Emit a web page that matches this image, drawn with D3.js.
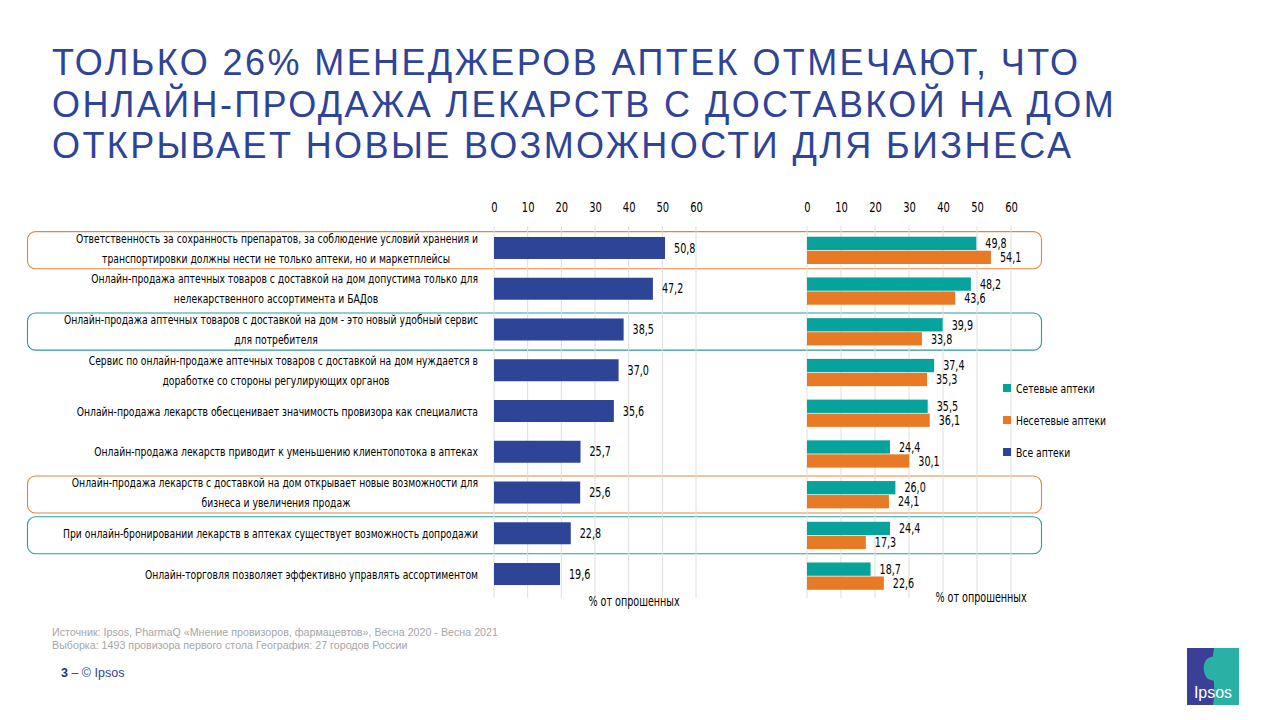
<!DOCTYPE html>
<html>
<head>
<meta charset="utf-8">
<script src="https://cdn.jsdelivr.net/npm/d3@7"></script>
<style>
  body { margin: 0; background: #fff; }
  svg { display: block; }
  .narrow { font-family: "Liberation Sans Narrow", "DejaVu Sans Condensed", sans-serif; }
  .wide { font-family: "Liberation Sans", Arial, sans-serif; }
</style>
</head>
<body>
<div id="chart-area"></div>
<script>
const titleLines = [
  "ТОЛЬКО 26% МЕНЕДЖЕРОВ АПТЕК ОТМЕЧАЮТ, ЧТО",
  "ОНЛАЙН-ПРОДАЖА ЛЕКАРСТВ С ДОСТАВКОЙ НА ДОМ",
  "ОТКРЫВАЕТ НОВЫЕ ВОЗМОЖНОСТИ ДЛЯ БИЗНЕСА"
];

const categories = [
  "Ответственность за сохранность препаратов, за соблюдение  условий хранения и|транспортировки должны нести не только аптеки, но и маркетплейсы",
  "Онлайн-продажа аптечных товаров с доставкой на дом допустима только для|нелекарственного  ассортимента и БАДов",
  "Онлайн-продажа аптечных товаров с доставкой на дом - это новый удобный сервис|для потребителя",
  "Сервис  по онлайн-продаже аптечных товаров с доставкой на дом нуждается в|доработке со стороны регулирующих  органов",
  "Онлайн-продажа лекарств  обесценивает  значимость провизора как специалиста",
  "Онлайн-продажа лекарств приводит к уменьшению  клиентопотока в аптеках",
  "Онлайн-продажа лекарств  с доставкой на дом открывает новые  возможности для|бизнеса  и увеличения  продаж",
  "При онлайн-бронировании лекарств  в аптеках существует  возможность допродажи",
  "Онлайн-торговля позволяет эффективно  управлять ассортиментом"
];

const allPharmacies = [50.8, 47.2, 38.5, 37.0, 35.6, 25.7, 25.6, 22.8, 19.6];
const chainPharmacies = [49.8, 48.2, 39.9, 37.4, 35.5, 24.4, 26.0, 24.4, 18.7];
const otherPharmacies = [54.1, 43.6, 33.8, 35.3, 36.1, 30.1, 24.1, 17.3, 22.6];

const tickValues = [0, 10, 20, 30, 40, 50, 60];
const seriesNames = ["Сетевые  аптеки", "Несетевые  аптеки", "Все аптеки"];
const highlightRows = [0, 2, 6, 7];
const highlightTypes = ["orange", "teal", "orange", "teal"];

const sourceLines = [
  "Источник: Ipsos, PharmaQ «Мнение провизоров, фармацевтов», Весна 2020 - Весна 2021",
  "Выборка: 1493 провизора первого стола  География: 27 городов России"
];

const colors = { all: "#2e4497", chain: "#05a39c", other: "#e87a26", orange: "#e3853c", teal: "#2a9c9c" };
const fmt = v => d3.format(".1f")(v).replace(".", ",");
const squeeze = 0.79; // condensed look of the original font

// condensed text placed at (x, y)
const narrowText = (parent, x, y, str, size, anchor) =>
  parent.append("text")
    .attr("class", "narrow")
    .attr("transform", `translate(${x}, ${y}) scale(${squeeze}, 1)`)
    .attr("dy", "0.35em")
    .attr("font-size", size)
    .attr("text-anchor", anchor || "start")
    .attr("fill", "#000")
    .text(str);

const drawChart = () => {
  const svg = d3.select("#chart-area").append("svg")
    .attr("width", 1280).attr("height", 720);

  // title
  svg.append("g").selectAll("text").data(titleLines).enter().append("text")
    .attr("class", "wide")
    .attr("x", 52)
    .attr("y", (d, i) => 75 + i * 41.5)
    .attr("fill", "#2e4497")
    .attr("font-size", 36)
    .attr("letter-spacing", 2.4)
    .text(d => d);

  const rows = d3.range(categories.length);
  const yLeft = d3.scaleBand().domain(rows).range([227.6, 594.4]);
  const yRight = d3.scaleBand().domain(rows).range([230, 596.5]);
  const xLeft = d3.scaleLinear().domain([0, 60]).range([494, 696]);
  const xRight = d3.scaleLinear().domain([0, 60]).range([807, 1011]);

  // highlight boxes
  svg.append("g").selectAll("rect").data(highlightRows).enter().append("rect")
    .attr("x", 27.5)
    .attr("width", 1014)
    .attr("y", r => yRight(r) + yRight.bandwidth() * 0.04)
    .attr("height", yRight.bandwidth() * 0.91)
    .attr("rx", 8)
    .attr("fill", "none")
    .attr("stroke", (r, i) => colors[highlightTypes[i]])
    .attr("stroke-width", 1.1);

  // gridlines + top axes
  const drawAxis = (x, gridTop, gridBottom) => {
    svg.append("g").selectAll("line").data(tickValues).enter().append("line")
      .attr("x1", d => x(d)).attr("x2", d => x(d))
      .attr("y1", gridTop).attr("y2", gridBottom)
      .attr("stroke", "#dedede").attr("stroke-width", 1);

    const axis = svg.append("g")
      .attr("transform", "translate(0, 212)")
      .call(d3.axisTop(x).tickValues(tickValues).tickSize(0).tickPadding(0));
    axis.select(".domain").remove();
    axis.selectAll("text")
      .attr("class", "narrow")
      .attr("font-size", 14)
      .attr("fill", "#000")
      .attr("transform", `scale(${squeeze}, 1)`);
  };
  drawAxis(xLeft, 226, 598);
  drawAxis(xRight, 226, 598);

  // left bars
  const hL = yLeft.bandwidth() * 0.54;
  const left = svg.append("g");
  left.selectAll("rect").data(allPharmacies).enter().append("rect")
    .attr("x", xLeft(0))
    .attr("y", (d, i) => yLeft(i) + (yLeft.bandwidth() - hL) / 2)
    .attr("width", d => xLeft(d) - xLeft(0))
    .attr("height", hL)
    .attr("fill", colors.all);
  allPharmacies.forEach((d, i) =>
    narrowText(left, xLeft(d) + 9, yLeft(i) + yLeft.bandwidth() / 2, fmt(d), 13.5));

  // category labels: first line right aligned, following lines centred in the label block
  const labels = svg.append("g");
  categories.forEach((c, i) => {
    const lines = c.split("|");
    const cy = yLeft(i) + yLeft.bandwidth() / 2;
    lines.forEach((l, j) => {
      const ly = cy + (j - (lines.length - 1) / 2) * 20;
      if (j === 0) narrowText(labels, 478, ly, l, 13, "end");
      else narrowText(labels, 276, ly, l, 13, "middle");
    });
  });

  // right grouped bars
  const sub = d3.scaleBand().domain([0, 1]).range([0, yRight.bandwidth() * 0.67]).paddingInner(0.05);
  const off = yRight.bandwidth() * 0.165;
  const right = svg.append("g");
  [chainPharmacies, otherPharmacies].forEach((series, s) => {
    right.append("g").selectAll("rect").data(series).enter().append("rect")
      .attr("x", xRight(0))
      .attr("y", (d, i) => yRight(i) + off + sub(s))
      .attr("width", d => xRight(d) - xRight(0))
      .attr("height", sub.bandwidth())
      .attr("fill", s === 0 ? colors.chain : colors.other);
    series.forEach((d, i) =>
      narrowText(right, xRight(d) + 9, yRight(i) + off + sub(s) + sub.bandwidth() / 2, fmt(d), 13.5));
  });

  // legend
  const legendColors = [colors.chain, colors.other, colors.all];
  const legend = svg.append("g");
  seriesNames.forEach((name, i) => {
    legend.append("rect").attr("x", 1003).attr("y", 384 + i * 32).attr("width", 8).attr("height", 8)
      .attr("fill", legendColors[i]);
    narrowText(legend, 1016, 388 + i * 32, name, 13);
  });

  // axis titles
  narrowText(svg, 634, 601, "% от опрошенных", 13.5, "middle");
  narrowText(svg, 981, 597, "% от опрошенных", 13.5, "middle");

  // footer
  svg.append("g").selectAll("text").data(sourceLines).enter().append("text")
    .attr("class", "wide")
    .attr("x", 52).attr("y", (d, i) => 636 + i * 13)
    .attr("font-size", 10.7).attr("fill", "#a6a6a6")
    .text(d => d);

  const page = svg.append("text").attr("class", "wide").attr("x", 61).attr("y", 677)
    .attr("font-size", 12.5).attr("fill", "#2e4497");
  page.append("tspan").attr("font-weight", "bold").attr("fill", "#24326f").text("3");
  page.append("tspan").text(" –  © Ipsos");

  // logo
  const logo = svg.append("g").attr("transform", "translate(1187, 648)");
  logo.append("rect").attr("width", 52).attr("height", 57).attr("fill", "#2ab0a4");
  logo.append("path").attr("d", "M0,0 H27 C23,20 30,38 26,57 H0 Z").attr("fill", "#3b3f98");
  logo.append("path")
    .attr("d", "M21,31 C15,25 15,11 24,9 C31,7 35,13 33,18 L35,22 L32,23 C32,27 30,29 27,28 L27,33 Z")
    .attr("fill", "#2ab0a4");
  logo.append("text").attr("class", "wide").attr("x", 26).attr("y", 50)
    .attr("text-anchor", "middle").attr("font-size", 16).attr("fill", "#fff").text("Ipsos");
};

window.onload = drawChart;
</script>
</body>
</html>
